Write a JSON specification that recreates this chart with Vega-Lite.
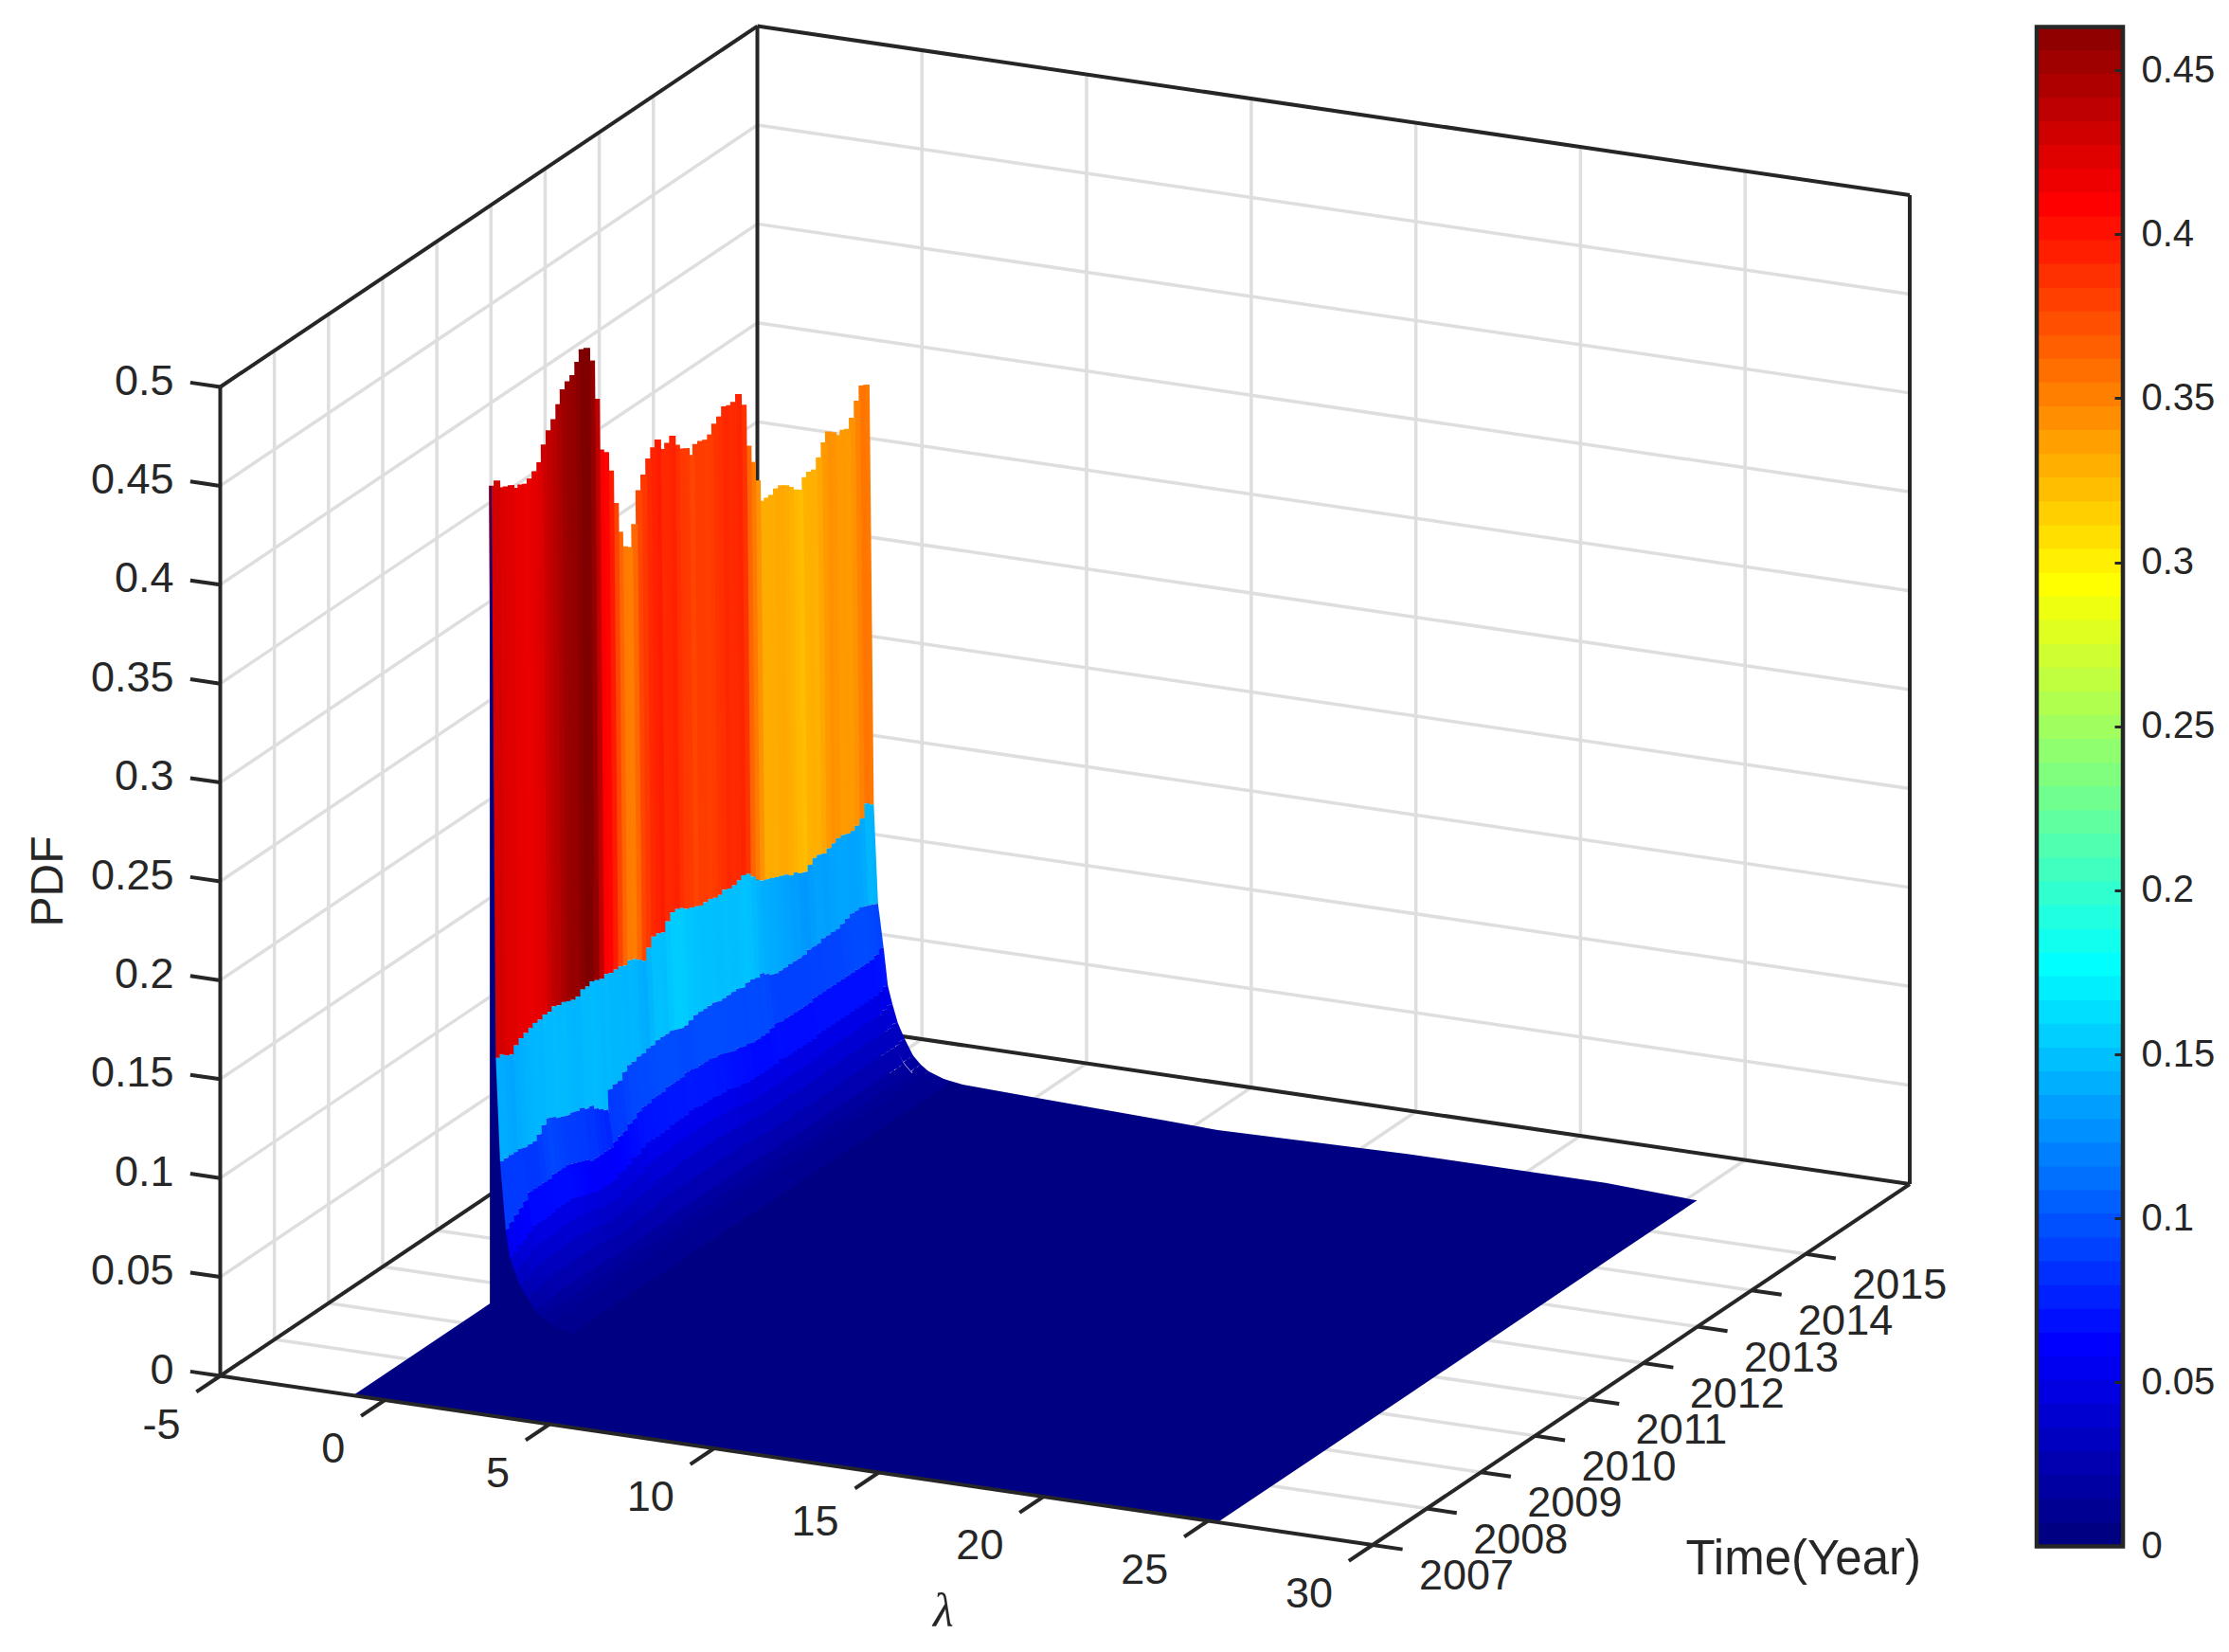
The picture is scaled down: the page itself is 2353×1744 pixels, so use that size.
{
  "$schema": "https://vega.github.io/schema/vega-lite/v6.json",
  "padding": 0,
  "spacing": 10,
  "background": "white",
  "config": {"view": {"stroke": null}},
  "datasets": {
    "grid": [
      {"l":0,"t":2016.92,"z":0,"l2":0,"t2":2016.92,"z2":0.5},
      {"l":5,"t":2016.92,"z":0,"l2":5,"t2":2016.92,"z2":0.5},
      {"l":10,"t":2016.92,"z":0,"l2":10,"t2":2016.92,"z2":0.5},
      {"l":15,"t":2016.92,"z":0,"l2":15,"t2":2016.92,"z2":0.5},
      {"l":20,"t":2016.92,"z":0,"l2":20,"t2":2016.92,"z2":0.5},
      {"l":25,"t":2016.92,"z":0,"l2":25,"t2":2016.92,"z2":0.5},
      {"l":-5,"t":2016.92,"z":0.05,"l2":30,"t2":2016.92,"z2":0.05},
      {"l":-5,"t":2016.92,"z":0.1,"l2":30,"t2":2016.92,"z2":0.1},
      {"l":-5,"t":2016.92,"z":0.15,"l2":30,"t2":2016.92,"z2":0.15},
      {"l":-5,"t":2016.92,"z":0.2,"l2":30,"t2":2016.92,"z2":0.2},
      {"l":-5,"t":2016.92,"z":0.25,"l2":30,"t2":2016.92,"z2":0.25},
      {"l":-5,"t":2016.92,"z":0.3,"l2":30,"t2":2016.92,"z2":0.3},
      {"l":-5,"t":2016.92,"z":0.35,"l2":30,"t2":2016.92,"z2":0.35},
      {"l":-5,"t":2016.92,"z":0.4,"l2":30,"t2":2016.92,"z2":0.4},
      {"l":-5,"t":2016.92,"z":0.45,"l2":30,"t2":2016.92,"z2":0.45},
      {"l":-5,"t":2008,"z":0,"l2":-5,"t2":2008,"z2":0.5},
      {"l":-5,"t":2009,"z":0,"l2":-5,"t2":2009,"z2":0.5},
      {"l":-5,"t":2010,"z":0,"l2":-5,"t2":2010,"z2":0.5},
      {"l":-5,"t":2011,"z":0,"l2":-5,"t2":2011,"z2":0.5},
      {"l":-5,"t":2012,"z":0,"l2":-5,"t2":2012,"z2":0.5},
      {"l":-5,"t":2013,"z":0,"l2":-5,"t2":2013,"z2":0.5},
      {"l":-5,"t":2014,"z":0,"l2":-5,"t2":2014,"z2":0.5},
      {"l":-5,"t":2015,"z":0,"l2":-5,"t2":2015,"z2":0.5},
      {"l":-5,"t":2007,"z":0.05,"l2":-5,"t2":2016.92,"z2":0.05},
      {"l":-5,"t":2007,"z":0.1,"l2":-5,"t2":2016.92,"z2":0.1},
      {"l":-5,"t":2007,"z":0.15,"l2":-5,"t2":2016.92,"z2":0.15},
      {"l":-5,"t":2007,"z":0.2,"l2":-5,"t2":2016.92,"z2":0.2},
      {"l":-5,"t":2007,"z":0.25,"l2":-5,"t2":2016.92,"z2":0.25},
      {"l":-5,"t":2007,"z":0.3,"l2":-5,"t2":2016.92,"z2":0.3},
      {"l":-5,"t":2007,"z":0.35,"l2":-5,"t2":2016.92,"z2":0.35},
      {"l":-5,"t":2007,"z":0.4,"l2":-5,"t2":2016.92,"z2":0.4},
      {"l":-5,"t":2007,"z":0.45,"l2":-5,"t2":2016.92,"z2":0.45},
      {"l":0,"t":2007,"z":0,"l2":0,"t2":2016.92,"z2":0},
      {"l":5,"t":2007,"z":0,"l2":5,"t2":2016.92,"z2":0},
      {"l":10,"t":2007,"z":0,"l2":10,"t2":2016.92,"z2":0},
      {"l":15,"t":2007,"z":0,"l2":15,"t2":2016.92,"z2":0},
      {"l":20,"t":2007,"z":0,"l2":20,"t2":2016.92,"z2":0},
      {"l":25,"t":2007,"z":0,"l2":25,"t2":2016.92,"z2":0},
      {"l":-5,"t":2008,"z":0,"l2":30,"t2":2008,"z2":0},
      {"l":-5,"t":2009,"z":0,"l2":30,"t2":2009,"z2":0},
      {"l":-5,"t":2010,"z":0,"l2":30,"t2":2010,"z2":0},
      {"l":-5,"t":2011,"z":0,"l2":30,"t2":2011,"z2":0},
      {"l":-5,"t":2012,"z":0,"l2":30,"t2":2012,"z2":0},
      {"l":-5,"t":2013,"z":0,"l2":30,"t2":2013,"z2":0},
      {"l":-5,"t":2014,"z":0,"l2":30,"t2":2014,"z2":0},
      {"l":-5,"t":2015,"z":0,"l2":30,"t2":2015,"z2":0}
    ],
    "box": [
      {"l":-5,"t":2007,"z":0,"l2":-5,"t2":2007,"z2":0.5},
      {"l":-5,"t":2007,"z":0.5,"l2":-5,"t2":2016.92,"z2":0.5},
      {"l":-5,"t":2016.92,"z":0,"l2":-5,"t2":2016.92,"z2":0.5},
      {"l":-5,"t":2016.92,"z":0.5,"l2":30,"t2":2016.92,"z2":0.5},
      {"l":30,"t":2016.92,"z":0,"l2":30,"t2":2016.92,"z2":0.5},
      {"l":-5,"t":2016.92,"z":0,"l2":30,"t2":2016.92,"z2":0},
      {"l":-5,"t":2007,"z":0,"l2":-5,"t2":2016.92,"z2":0},
      {"l":30,"t":2007,"z":0,"l2":30,"t2":2016.92,"z2":0}
    ],
    "ticks": [
      {"l":-5,"t":2007,"z":0,"l2":30,"t2":2007,"z2":0},
      {"l":-5,"t":2007,"z":0,"l2":-5,"t2":2006.56,"z2":0},
      {"l":0,"t":2007,"z":0,"l2":0,"t2":2006.56,"z2":0},
      {"l":5,"t":2007,"z":0,"l2":5,"t2":2006.56,"z2":0},
      {"l":10,"t":2007,"z":0,"l2":10,"t2":2006.56,"z2":0},
      {"l":15,"t":2007,"z":0,"l2":15,"t2":2006.56,"z2":0},
      {"l":20,"t":2007,"z":0,"l2":20,"t2":2006.56,"z2":0},
      {"l":25,"t":2007,"z":0,"l2":25,"t2":2006.56,"z2":0},
      {"l":30,"t":2007,"z":0,"l2":30,"t2":2006.56,"z2":0},
      {"l":30,"t":2007,"z":0,"l2":30.91,"t2":2007,"z2":0},
      {"l":30,"t":2008,"z":0,"l2":30.91,"t2":2008,"z2":0},
      {"l":30,"t":2009,"z":0,"l2":30.91,"t2":2009,"z2":0},
      {"l":30,"t":2010,"z":0,"l2":30.91,"t2":2010,"z2":0},
      {"l":30,"t":2011,"z":0,"l2":30.91,"t2":2011,"z2":0},
      {"l":30,"t":2012,"z":0,"l2":30.91,"t2":2012,"z2":0},
      {"l":30,"t":2013,"z":0,"l2":30.91,"t2":2013,"z2":0},
      {"l":30,"t":2014,"z":0,"l2":30.91,"t2":2014,"z2":0},
      {"l":30,"t":2015,"z":0,"l2":30.91,"t2":2015,"z2":0},
      {"l":-5,"t":2007,"z":0,"l2":-5.91,"t2":2007,"z2":0},
      {"l":-5,"t":2007,"z":0.05,"l2":-5.91,"t2":2007,"z2":0.05},
      {"l":-5,"t":2007,"z":0.1,"l2":-5.91,"t2":2007,"z2":0.1},
      {"l":-5,"t":2007,"z":0.15,"l2":-5.91,"t2":2007,"z2":0.15},
      {"l":-5,"t":2007,"z":0.2,"l2":-5.91,"t2":2007,"z2":0.2},
      {"l":-5,"t":2007,"z":0.25,"l2":-5.91,"t2":2007,"z2":0.25},
      {"l":-5,"t":2007,"z":0.3,"l2":-5.91,"t2":2007,"z2":0.3},
      {"l":-5,"t":2007,"z":0.35,"l2":-5.91,"t2":2007,"z2":0.35},
      {"l":-5,"t":2007,"z":0.4,"l2":-5.91,"t2":2007,"z2":0.4},
      {"l":-5,"t":2007,"z":0.45,"l2":-5.91,"t2":2007,"z2":0.45},
      {"l":-5,"t":2007,"z":0.5,"l2":-5.91,"t2":2007,"z2":0.5}
    ],
    "floor": [
      {"l":-0.96,"t":2007,"z":0,"l2":-0.96,"t2":2007},
      {"l":-0.96,"t":2015.85,"z":0,"l2":13.59,"t2":2007},
      {"l":1.8,"t":2015.85,"z":0.007,"l2":16.35,"t2":2007},
      {"l":3,"t":2015.85,"z":0.004,"l2":17.55,"t2":2007},
      {"l":5,"t":2015.85,"z":0.003,"l2":19.54,"t2":2007},
      {"l":9,"t":2015.85,"z":0.001,"l2":23.54,"t2":2007},
      {"l":10.74,"t":2015.85,"z":0,"l2":25.3,"t2":2007},
      {"l":16.5,"t":2015.85,"z":0.002,"l2":25.3,"t2":2010.49},
      {"l":22.52,"t":2015.85,"z":0.002,"l2":25.3,"t2":2014.16},
      {"l":25.3,"t":2015.85,"z":0,"l2":25.3,"t2":2015.85}
    ],
    "bands": [
      {"band":"a","lam":-0.05},
      {"band":"b","lam":0.08},
      {"band":"c","lam":0.21},
      {"band":"d","lam":0.38},
      {"band":"e","lam":0.51},
      {"band":"k","lam":0.65},
      {"band":"f","lam":0.81},
      {"band":"m","lam":1.03},
      {"band":"g","lam":1.29},
      {"band":"n","lam":1.52},
      {"band":"h","lam":1.76},
      {"band":"i","lam":2.4}
    ],
    "wall": [
      {"l":-0.1,"t":2009,"z":0.425},
      {"l":-0.05,"t":2009,"z":0.425},
      {"l":0.08,"t":2009,"z":0.136},
      {"l":0.21,"t":2009,"z":0.084},
      {"l":0.38,"t":2009,"z":0.05},
      {"l":0.51,"t":2009,"z":0.036},
      {"l":0.81,"t":2009,"z":0.023},
      {"l":1.29,"t":2009,"z":0.011},
      {"l":1.76,"t":2009,"z":0.005},
      {"l":3,"t":2009,"z":0}
    ],
    "ridge": [
      {"t":2015.92,"a":0.351,"b":0.139,"c":0.089,"d":0.067,"e":0.048,"k":0.039,"f":0.03,"m":0.022,"g":0.014,"n":0.01,"h":0.007,"i":0.003},
      {"t":2015.84,"a":0.352,"b":0.141,"c":0.09,"d":0.065,"e":0.047,"k":0.038,"f":0.029,"m":0.021,"g":0.014,"n":0.01,"h":0.007,"i":0.003},
      {"t":2015.75,"a":0.346,"b":0.135,"c":0.091,"d":0.064,"e":0.046,"k":0.037,"f":0.029,"m":0.021,"g":0.013,"n":0.009,"h":0.006,"i":0.003},
      {"t":2015.66,"a":0.339,"b":0.133,"c":0.092,"d":0.064,"e":0.046,"k":0.037,"f":0.029,"m":0.021,"g":0.013,"n":0.009,"h":0.006,"i":0.003},
      {"t":2015.57,"a":0.335,"b":0.132,"c":0.092,"d":0.064,"e":0.046,"k":0.037,"f":0.029,"m":0.021,"g":0.013,"n":0.009,"h":0.006,"i":0.003},
      {"t":2015.49,"a":0.336,"b":0.132,"c":0.092,"d":0.064,"e":0.046,"k":0.037,"f":0.029,"m":0.021,"g":0.013,"n":0.009,"h":0.006,"i":0.003},
      {"t":2015.4,"a":0.335,"b":0.133,"c":0.091,"d":0.064,"e":0.046,"k":0.037,"f":0.029,"m":0.021,"g":0.013,"n":0.009,"h":0.006,"i":0.003},
      {"t":2015.31,"a":0.338,"b":0.133,"c":0.09,"d":0.064,"e":0.046,"k":0.037,"f":0.029,"m":0.021,"g":0.013,"n":0.009,"h":0.006,"i":0.003},
      {"t":2015.22,"a":0.34,"b":0.132,"c":0.089,"d":0.064,"e":0.046,"k":0.037,"f":0.029,"m":0.021,"g":0.013,"n":0.009,"h":0.006,"i":0.003},
      {"t":2015.14,"a":0.336,"b":0.131,"c":0.089,"d":0.064,"e":0.046,"k":0.037,"f":0.029,"m":0.021,"g":0.013,"n":0.009,"h":0.006,"i":0.003},
      {"t":2015.05,"a":0.33,"b":0.13,"c":0.089,"d":0.064,"e":0.046,"k":0.037,"f":0.029,"m":0.021,"g":0.013,"n":0.009,"h":0.006,"i":0.003},
      {"t":2014.96,"a":0.3255,"b":0.131,"c":0.089,"d":0.064,"e":0.046,"k":0.037,"f":0.029,"m":0.021,"g":0.013,"n":0.009,"h":0.006,"i":0.003},
      {"t":2014.87,"a":0.326,"b":0.131,"c":0.088,"d":0.064,"e":0.046,"k":0.037,"f":0.029,"m":0.021,"g":0.013,"n":0.009,"h":0.006,"i":0.003},
      {"t":2014.79,"a":0.3247,"b":0.129,"c":0.088,"d":0.064,"e":0.046,"k":0.037,"f":0.029,"m":0.021,"g":0.013,"n":0.009,"h":0.006,"i":0.003},
      {"t":2014.7,"a":0.32,"b":0.127,"c":0.088,"d":0.064,"e":0.046,"k":0.037,"f":0.029,"m":0.021,"g":0.013,"n":0.009,"h":0.006,"i":0.003},
      {"t":2014.61,"a":0.3217,"b":0.128,"c":0.087,"d":0.063,"e":0.045,"k":0.036,"f":0.028,"m":0.02,"g":0.013,"n":0.009,"h":0.006,"i":0.003},
      {"t":2014.52,"a":0.3247,"b":0.13,"c":0.087,"d":0.063,"e":0.045,"k":0.036,"f":0.028,"m":0.02,"g":0.013,"n":0.009,"h":0.006,"i":0.003},
      {"t":2014.44,"a":0.327,"b":0.13,"c":0.087,"d":0.063,"e":0.045,"k":0.036,"f":0.028,"m":0.02,"g":0.013,"n":0.009,"h":0.006,"i":0.003},
      {"t":2014.35,"a":0.3286,"b":0.132,"c":0.087,"d":0.063,"e":0.045,"k":0.036,"f":0.028,"m":0.02,"g":0.013,"n":0.009,"h":0.006,"i":0.003},
      {"t":2014.26,"a":0.3286,"b":0.133,"c":0.087,"d":0.063,"e":0.045,"k":0.036,"f":0.028,"m":0.02,"g":0.013,"n":0.009,"h":0.006,"i":0.003},
      {"t":2014.17,"a":0.327,"b":0.134,"c":0.087,"d":0.063,"e":0.045,"k":0.036,"f":0.028,"m":0.02,"g":0.013,"n":0.009,"h":0.006,"i":0.003},
      {"t":2014.09,"a":0.327,"b":0.135,"c":0.087,"d":0.063,"e":0.045,"k":0.036,"f":0.028,"m":0.02,"g":0.013,"n":0.009,"h":0.006,"i":0.003},
      {"t":2014,"a":0.327,"b":0.136,"c":0.088,"d":0.064,"e":0.046,"k":0.037,"f":0.029,"m":0.021,"g":0.013,"n":0.009,"h":0.006,"i":0.003},
      {"t":2013.91,"a":0.339,"b":0.137,"c":0.09,"d":0.063,"e":0.045,"k":0.036,"f":0.028,"m":0.02,"g":0.013,"n":0.009,"h":0.006,"i":0.003},
      {"t":2013.82,"a":0.35,"b":0.139,"c":0.092,"d":0.062,"e":0.045,"k":0.036,"f":0.028,"m":0.02,"g":0.013,"n":0.009,"h":0.006,"i":0.003},
      {"t":2013.74,"a":0.3596,"b":0.142,"c":0.091,"d":0.062,"e":0.045,"k":0.036,"f":0.028,"m":0.02,"g":0.013,"n":0.009,"h":0.006,"i":0.003},
      {"t":2013.65,"a":0.382,"b":0.145,"c":0.092,"d":0.062,"e":0.045,"k":0.036,"f":0.028,"m":0.02,"g":0.013,"n":0.009,"h":0.006,"i":0.003},
      {"t":2013.56,"a":0.389,"b":0.146,"c":0.092,"d":0.062,"e":0.045,"k":0.036,"f":0.028,"m":0.02,"g":0.013,"n":0.009,"h":0.006,"i":0.003},
      {"t":2013.47,"a":0.3867,"b":0.145,"c":0.091,"d":0.063,"e":0.045,"k":0.036,"f":0.028,"m":0.02,"g":0.013,"n":0.009,"h":0.006,"i":0.003},
      {"t":2013.39,"a":0.3864,"b":0.144,"c":0.092,"d":0.063,"e":0.045,"k":0.036,"f":0.028,"m":0.02,"g":0.013,"n":0.009,"h":0.006,"i":0.003},
      {"t":2013.3,"a":0.3875,"b":0.144,"c":0.092,"d":0.064,"e":0.046,"k":0.037,"f":0.029,"m":0.021,"g":0.013,"n":0.009,"h":0.006,"i":0.003},
      {"t":2013.21,"a":0.384,"b":0.145,"c":0.092,"d":0.064,"e":0.046,"k":0.037,"f":0.029,"m":0.021,"g":0.013,"n":0.009,"h":0.006,"i":0.003},
      {"t":2013.12,"a":0.382,"b":0.144,"c":0.092,"d":0.065,"e":0.047,"k":0.038,"f":0.029,"m":0.021,"g":0.014,"n":0.01,"h":0.007,"i":0.003},
      {"t":2013.04,"a":0.378,"b":0.144,"c":0.092,"d":0.066,"e":0.048,"k":0.039,"f":0.03,"m":0.022,"g":0.014,"n":0.01,"h":0.007,"i":0.003},
      {"t":2012.95,"a":0.377,"b":0.145,"c":0.093,"d":0.067,"e":0.048,"k":0.039,"f":0.03,"m":0.022,"g":0.014,"n":0.01,"h":0.007,"i":0.003},
      {"t":2012.86,"a":0.378,"b":0.145,"c":0.093,"d":0.067,"e":0.048,"k":0.039,"f":0.03,"m":0.022,"g":0.014,"n":0.01,"h":0.007,"i":0.003},
      {"t":2012.77,"a":0.378,"b":0.145,"c":0.093,"d":0.068,"e":0.049,"k":0.04,"f":0.031,"m":0.022,"g":0.014,"n":0.01,"h":0.007,"i":0.003},
      {"t":2012.69,"a":0.374,"b":0.146,"c":0.093,"d":0.068,"e":0.049,"k":0.04,"f":0.031,"m":0.022,"g":0.014,"n":0.01,"h":0.007,"i":0.003},
      {"t":2012.6,"a":0.379,"b":0.147,"c":0.093,"d":0.068,"e":0.049,"k":0.04,"f":0.031,"m":0.022,"g":0.014,"n":0.01,"h":0.007,"i":0.003},
      {"t":2012.51,"a":0.3805,"b":0.148,"c":0.092,"d":0.068,"e":0.049,"k":0.04,"f":0.031,"m":0.022,"g":0.014,"n":0.01,"h":0.007,"i":0.003},
      {"t":2012.42,"a":0.384,"b":0.15,"c":0.091,"d":0.069,"e":0.05,"k":0.04,"f":0.031,"m":0.022,"g":0.014,"n":0.01,"h":0.007,"i":0.003},
      {"t":2012.34,"a":0.39,"b":0.151,"c":0.091,"d":0.069,"e":0.05,"k":0.04,"f":0.031,"m":0.022,"g":0.014,"n":0.01,"h":0.007,"i":0.003},
      {"t":2012.25,"a":0.388,"b":0.151,"c":0.092,"d":0.068,"e":0.049,"k":0.04,"f":0.031,"m":0.022,"g":0.014,"n":0.01,"h":0.007,"i":0.003},
      {"t":2012.16,"a":0.3866,"b":0.148,"c":0.093,"d":0.068,"e":0.049,"k":0.04,"f":0.031,"m":0.022,"g":0.014,"n":0.01,"h":0.007,"i":0.003},
      {"t":2012.07,"a":0.393,"b":0.144,"c":0.093,"d":0.068,"e":0.049,"k":0.04,"f":0.031,"m":0.022,"g":0.014,"n":0.01,"h":0.007,"i":0.003},
      {"t":2011.99,"a":0.3905,"b":0.145,"c":0.093,"d":0.068,"e":0.049,"k":0.04,"f":0.031,"m":0.022,"g":0.014,"n":0.01,"h":0.007,"i":0.003},
      {"t":2011.9,"a":0.3865,"b":0.145,"c":0.093,"d":0.067,"e":0.048,"k":0.039,"f":0.03,"m":0.022,"g":0.014,"n":0.01,"h":0.007,"i":0.003},
      {"t":2011.81,"a":0.38,"b":0.141,"c":0.092,"d":0.067,"e":0.048,"k":0.039,"f":0.03,"m":0.022,"g":0.014,"n":0.01,"h":0.007,"i":0.003},
      {"t":2011.72,"a":0.3737,"b":0.136,"c":0.092,"d":0.067,"e":0.048,"k":0.039,"f":0.03,"m":0.022,"g":0.014,"n":0.01,"h":0.007,"i":0.003},
      {"t":2011.64,"a":0.358,"b":0.138,"c":0.091,"d":0.066,"e":0.048,"k":0.039,"f":0.03,"m":0.022,"g":0.014,"n":0.01,"h":0.007,"i":0.003},
      {"t":2011.55,"a":0.348,"b":0.14,"c":0.091,"d":0.066,"e":0.048,"k":0.039,"f":0.03,"m":0.022,"g":0.014,"n":0.01,"h":0.007,"i":0.003},
      {"t":2011.46,"a":0.35,"b":0.141,"c":0.09,"d":0.065,"e":0.047,"k":0.038,"f":0.029,"m":0.021,"g":0.014,"n":0.01,"h":0.007,"i":0.003},
      {"t":2011.37,"a":0.359,"b":0.14,"c":0.09,"d":0.063,"e":0.045,"k":0.036,"f":0.028,"m":0.02,"g":0.013,"n":0.009,"h":0.006,"i":0.003},
      {"t":2011.29,"a":0.375,"b":0.141,"c":0.088,"d":0.062,"e":0.045,"k":0.036,"f":0.028,"m":0.02,"g":0.013,"n":0.009,"h":0.006,"i":0.003},
      {"t":2011.2,"a":0.393,"b":0.141,"c":0.085,"d":0.06,"e":0.043,"k":0.035,"f":0.027,"m":0.02,"g":0.013,"n":0.009,"h":0.006,"i":0.003},
      {"t":2011.11,"a":0.404,"b":0.141,"c":0.085,"d":0.059,"e":0.042,"k":0.034,"f":0.027,"m":0.019,"g":0.012,"n":0.009,"h":0.006,"i":0.003},
      {"t":2011.02,"a":0.407,"b":0.142,"c":0.084,"d":0.058,"e":0.042,"k":0.034,"f":0.026,"m":0.019,"g":0.012,"n":0.009,"h":0.006,"i":0.003},
      {"t":2010.94,"a":0.434,"b":0.141,"c":0.075,"d":0.056,"e":0.04,"k":0.032,"f":0.025,"m":0.018,"g":0.012,"n":0.009,"h":0.006,"i":0.003},
      {"t":2010.85,"a":0.455,"b":0.142,"c":0.077,"d":0.056,"e":0.04,"k":0.032,"f":0.025,"m":0.018,"g":0.012,"n":0.009,"h":0.006,"i":0.003},
      {"t":2010.76,"a":0.463,"b":0.143,"c":0.079,"d":0.056,"e":0.04,"k":0.032,"f":0.025,"m":0.018,"g":0.012,"n":0.009,"h":0.006,"i":0.003},
      {"t":2010.67,"a":0.464,"b":0.142,"c":0.082,"d":0.056,"e":0.04,"k":0.032,"f":0.025,"m":0.018,"g":0.012,"n":0.009,"h":0.006,"i":0.003},
      {"t":2010.59,"a":0.459,"b":0.142,"c":0.082,"d":0.056,"e":0.04,"k":0.032,"f":0.025,"m":0.018,"g":0.012,"n":0.009,"h":0.006,"i":0.003},
      {"t":2010.5,"a":0.454,"b":0.14,"c":0.084,"d":0.058,"e":0.042,"k":0.034,"f":0.026,"m":0.019,"g":0.012,"n":0.009,"h":0.006,"i":0.003},
      {"t":2010.41,"a":0.4525,"b":0.14,"c":0.084,"d":0.059,"e":0.042,"k":0.034,"f":0.027,"m":0.019,"g":0.012,"n":0.009,"h":0.006,"i":0.003},
      {"t":2010.32,"a":0.45,"b":0.141,"c":0.085,"d":0.06,"e":0.043,"k":0.035,"f":0.027,"m":0.02,"g":0.013,"n":0.009,"h":0.006,"i":0.003},
      {"t":2010.24,"a":0.444,"b":0.142,"c":0.085,"d":0.061,"e":0.044,"k":0.035,"f":0.027,"m":0.02,"g":0.013,"n":0.009,"h":0.006,"i":0.003},
      {"t":2010.15,"a":0.438,"b":0.142,"c":0.086,"d":0.062,"e":0.045,"k":0.036,"f":0.028,"m":0.02,"g":0.013,"n":0.009,"h":0.006,"i":0.003},
      {"t":2010.06,"a":0.434,"b":0.143,"c":0.087,"d":0.062,"e":0.045,"k":0.036,"f":0.028,"m":0.02,"g":0.013,"n":0.009,"h":0.006,"i":0.003},
      {"t":2009.97,"a":0.4285,"b":0.142,"c":0.089,"d":0.062,"e":0.045,"k":0.036,"f":0.028,"m":0.02,"g":0.013,"n":0.009,"h":0.006,"i":0.003},
      {"t":2009.89,"a":0.421,"b":0.142,"c":0.09,"d":0.062,"e":0.045,"k":0.036,"f":0.028,"m":0.02,"g":0.013,"n":0.009,"h":0.006,"i":0.003},
      {"t":2009.8,"a":0.418,"b":0.141,"c":0.088,"d":0.061,"e":0.044,"k":0.035,"f":0.027,"m":0.02,"g":0.013,"n":0.009,"h":0.006,"i":0.003},
      {"t":2009.71,"a":0.416,"b":0.141,"c":0.085,"d":0.061,"e":0.044,"k":0.035,"f":0.027,"m":0.02,"g":0.013,"n":0.009,"h":0.006,"i":0.003},
      {"t":2009.62,"a":0.415,"b":0.14,"c":0.083,"d":0.061,"e":0.044,"k":0.035,"f":0.027,"m":0.02,"g":0.013,"n":0.009,"h":0.006,"i":0.003},
      {"t":2009.54,"a":0.416,"b":0.139,"c":0.083,"d":0.061,"e":0.044,"k":0.035,"f":0.027,"m":0.02,"g":0.013,"n":0.009,"h":0.006,"i":0.003},
      {"t":2009.45,"a":0.416,"b":0.138,"c":0.083,"d":0.061,"e":0.044,"k":0.035,"f":0.027,"m":0.02,"g":0.013,"n":0.009,"h":0.006,"i":0.003},
      {"t":2009.36,"a":0.419,"b":0.136,"c":0.084,"d":0.058,"e":0.042,"k":0.034,"f":0.026,"m":0.019,"g":0.012,"n":0.009,"h":0.006,"i":0.003},
      {"t":2009.27,"a":0.42,"b":0.133,"c":0.084,"d":0.056,"e":0.04,"k":0.032,"f":0.025,"m":0.018,"g":0.012,"n":0.009,"h":0.006,"i":0.003},
      {"t":2009.19,"a":0.421,"b":0.134,"c":0.084,"d":0.054,"e":0.039,"k":0.031,"f":0.024,"m":0.017,"g":0.011,"n":0.008,"h":0.005,"i":0.002},
      {"t":2009.1,"a":0.426,"b":0.136,"c":0.084,"d":0.052,"e":0.037,"k":0.03,"f":0.023,"m":0.017,"g":0.011,"n":0.008,"h":0.005,"i":0.002},
      {"t":2009.01,"a":0.425,"b":0.136,"c":0.084,"d":0.05,"e":0.036,"k":0.029,"f":0.023,"m":0.017,"g":0.011,"n":0.008,"h":0.005,"i":0.002}
    ],
    "colorbar": [
      {"lo":0,"hi":0.0076},{"lo":0.0072,"hi":0.0149},{"lo":0.0145,"hi":0.0221},{"lo":0.0217,"hi":0.0294},
      {"lo":0.029,"hi":0.0366},{"lo":0.0362,"hi":0.0438},{"lo":0.0434,"hi":0.0511},{"lo":0.0507,"hi":0.0583},
      {"lo":0.0579,"hi":0.0656},{"lo":0.0652,"hi":0.0728},{"lo":0.0724,"hi":0.08},{"lo":0.0796,"hi":0.0873},
      {"lo":0.0869,"hi":0.0945},{"lo":0.0941,"hi":0.1018},{"lo":0.1014,"hi":0.109},{"lo":0.1086,"hi":0.1162},
      {"lo":0.1158,"hi":0.1235},{"lo":0.1231,"hi":0.1307},{"lo":0.1303,"hi":0.138},{"lo":0.1376,"hi":0.1452},
      {"lo":0.1448,"hi":0.1524},{"lo":0.152,"hi":0.1597},{"lo":0.1593,"hi":0.1669},{"lo":0.1665,"hi":0.1742},
      {"lo":0.1738,"hi":0.1814},{"lo":0.181,"hi":0.1886},{"lo":0.1882,"hi":0.1959},{"lo":0.1955,"hi":0.2031},
      {"lo":0.2027,"hi":0.2104},{"lo":0.21,"hi":0.2176},{"lo":0.2172,"hi":0.2248},{"lo":0.2244,"hi":0.2321},
      {"lo":0.2317,"hi":0.2393},{"lo":0.2389,"hi":0.2466},{"lo":0.2462,"hi":0.2538},{"lo":0.2534,"hi":0.261},
      {"lo":0.2606,"hi":0.2683},{"lo":0.2679,"hi":0.2755},{"lo":0.2751,"hi":0.2828},{"lo":0.2824,"hi":0.29},
      {"lo":0.2896,"hi":0.2972},{"lo":0.2968,"hi":0.3045},{"lo":0.3041,"hi":0.3117},{"lo":0.3113,"hi":0.319},
      {"lo":0.3186,"hi":0.3262},{"lo":0.3258,"hi":0.3334},{"lo":0.333,"hi":0.3407},{"lo":0.3403,"hi":0.3479},
      {"lo":0.3475,"hi":0.3552},{"lo":0.3548,"hi":0.3624},{"lo":0.362,"hi":0.3696},{"lo":0.3692,"hi":0.3769},
      {"lo":0.3765,"hi":0.3841},{"lo":0.3837,"hi":0.3914},{"lo":0.391,"hi":0.3986},{"lo":0.3982,"hi":0.4058},
      {"lo":0.4054,"hi":0.4131},{"lo":0.4127,"hi":0.4203},{"lo":0.4199,"hi":0.4276},{"lo":0.4272,"hi":0.4348},
      {"lo":0.4344,"hi":0.442},{"lo":0.4416,"hi":0.4493},{"lo":0.4489,"hi":0.4565},{"lo":0.4561,"hi":0.4632}
    ]
  },
  "hconcat": [
    {
      "width": 2137,
      "height": 1744,
      "encoding": {
        "x": {"field": "px", "type": "quantitative", "axis": null, "scale": {"domain": [0, 2137], "nice": false, "zero": false}},
        "y": {"field": "py", "type": "quantitative", "axis": null, "scale": {"domain": [1744, 0], "nice": false, "zero": false}}
      },
      "layer": [
        {
          "data": {"name": "grid"},
          "transform": [
            {"calculate": "232.5+34.757*(datum.l+5)+57.157*(datum.t-2007)", "as": "px"},
            {"calculate": "1452.5+5.1*(datum.l+5)-38.4*(datum.t-2007)-2088*datum.z", "as": "py"},
            {"calculate": "232.5+34.757*(datum.l2+5)+57.157*(datum.t2-2007)", "as": "qx"},
            {"calculate": "1452.5+5.1*(datum.l2+5)-38.4*(datum.t2-2007)-2088*datum.z2", "as": "qy"}
          ],
          "mark": {"type": "rule", "color": "#dedede", "strokeWidth": 3.5},
          "encoding": {"x2": {"field": "qx"}, "y2": {"field": "qy"}}
        },
        {
          "data": {"name": "box"},
          "transform": [
            {"calculate": "232.5+34.757*(datum.l+5)+57.157*(datum.t-2007)", "as": "px"},
            {"calculate": "1452.5+5.1*(datum.l+5)-38.4*(datum.t-2007)-2088*datum.z", "as": "py"},
            {"calculate": "232.5+34.757*(datum.l2+5)+57.157*(datum.t2-2007)", "as": "qx"},
            {"calculate": "1452.5+5.1*(datum.l2+5)-38.4*(datum.t2-2007)-2088*datum.z2", "as": "qy"}
          ],
          "mark": {"type": "rule", "color": "#262626", "strokeWidth": 4},
          "encoding": {"x2": {"field": "qx"}, "y2": {"field": "qy"}}
        },
        {
          "data": {"name": "floor"},
          "transform": [
            {"calculate": "232.5+34.757*(datum.l+5)+57.157*(datum.t-2007)", "as": "px"},
            {"calculate": "1452.5+5.1*(datum.l+5)-38.4*(datum.t-2007)-2088*datum.z", "as": "py"},
            {"calculate": "1452.5+5.1*(datum.l2+5)-38.4*(datum.t2-2007)", "as": "qy"}
          ],
          "mark": {"type": "area", "color": "#000083", "interpolate": "linear"},
          "encoding": {"y2": {"field": "qy"}}
        },
        {
          "data": {"name": "ridge"},
          "transform": [
            {"calculate": "232.5+34.757*5.38+57.157*(datum.t-2007)", "as": "px"},
            {"calculate": "1452+4.886*5.38-37.8*(datum.t-2007)-2088*datum.d", "as": "py"},
            {"calculate": "1452+4.886*5.38-37.8*(datum.t-2007)", "as": "qy"}
          ],
          "mark": {"type": "area", "color": "#00009a", "interpolate": "linear"},
          "encoding": {"y2": {"field": "qy"}}
        },
        {
          "data": {"name": "ridge"},
          "transform": [
            {"fold": ["a", "b", "c", "d", "e", "k", "f", "m", "g", "n", "h", "i"], "as": ["band", "p"]},
            {"lookup": "band", "from": {"data": {"name": "bands"}, "key": "band", "fields": ["lam"]}},
            {
              "window": [
                {"op": "lead", "field": "p", "as": "p2"},
                {"op": "lead", "field": "lam", "as": "lam2"}
              ],
              "groupby": ["t"],
              "sort": [{"field": "lam"}]
            },
            {"filter": "datum.p2 != null"},
            {"calculate": "232.5+34.757*(datum.lam+5)+57.157*(datum.t-2007)", "as": "px"},
            {"calculate": "1452+4.886*(datum.lam+5)-37.8*(datum.t-2007)-2088*datum.p", "as": "py"},
            {"calculate": "232.5+34.757*(datum.lam2+5)+57.157*(datum.t-2007)", "as": "qx"},
            {"calculate": "1452+4.886*(datum.lam2+5)-37.8*(datum.t-2007)-2088*datum.p2", "as": "qy"}
          ],
          "mark": {"type": "rule", "strokeWidth": 7},
          "encoding": {
            "x2": {"field": "qx"},
            "y2": {"field": "qy"},
            "color": {
              "field": "p",
              "type": "quantitative",
              "legend": null,
              "scale": {
                "domain": [0, 0.0579, 0.1737, 0.2895, 0.4053, 0.4632],
                "range": ["#000083", "#0000ff", "#00ffff", "#ffff00", "#ff0000", "#800000"],
                "interpolate": "rgb"
              }
            }
          }
        },
        {
          "data": {"name": "wall"},
          "transform": [
            {"calculate": "232.5+34.757*(datum.l+5)+57.157*(datum.t-2007)", "as": "px"},
            {"calculate": "1452+4.886*(datum.l+5)-37.8*(datum.t-2007)-2088*datum.z", "as": "py"},
            {"calculate": "1452+4.886*(datum.l+5)-37.8*(datum.t-2007)", "as": "qy"}
          ],
          "mark": {"type": "area", "color": "#000083", "interpolate": "linear"},
          "encoding": {"y2": {"field": "qy"}}
        },
        {
          "data": {"name": "ticks"},
          "transform": [
            {"calculate": "232.5+34.757*(datum.l+5)+57.157*(datum.t-2007)", "as": "px"},
            {"calculate": "1452.5+5.1*(datum.l+5)-38.4*(datum.t-2007)-2088*datum.z", "as": "py"},
            {"calculate": "232.5+34.757*(datum.l2+5)+57.157*(datum.t2-2007)", "as": "qx"},
            {"calculate": "1452.5+5.1*(datum.l2+5)-38.4*(datum.t2-2007)-2088*datum.z2", "as": "qy"}
          ],
          "mark": {"type": "rule", "color": "#262626", "strokeWidth": 4},
          "encoding": {"x2": {"field": "qx"}, "y2": {"field": "qy"}}
        },
        {
          "data": {"values": [
            {"label":"0","l":-5,"t":2007,"z":0},{"label":"0.05","l":-5,"t":2007,"z":0.05},{"label":"0.1","l":-5,"t":2007,"z":0.1},
            {"label":"0.15","l":-5,"t":2007,"z":0.15},{"label":"0.2","l":-5,"t":2007,"z":0.2},{"label":"0.25","l":-5,"t":2007,"z":0.25},
            {"label":"0.3","l":-5,"t":2007,"z":0.3},{"label":"0.35","l":-5,"t":2007,"z":0.35},{"label":"0.4","l":-5,"t":2007,"z":0.4},
            {"label":"0.45","l":-5,"t":2007,"z":0.45},{"label":"0.5","l":-5,"t":2007,"z":0.5}
          ]},
          "transform": [
            {"calculate": "232.5+34.757*(datum.l+5)+57.157*(datum.t-2007)", "as": "px"},
            {"calculate": "1452.5+5.1*(datum.l+5)-38.4*(datum.t-2007)-2088*datum.z", "as": "py"}
          ],
          "mark": {"type": "text", "align": "right", "baseline": "middle", "dx": -49, "dy": -6, "font": "Liberation Sans", "fontSize": 45, "fill": "#262626"},
          "encoding": {"text": {"field": "label"}}
        },
        {
          "data": {"values": [
            {"label":"-5","l":-5,"t":2007,"z":0},{"label":"0","l":0,"t":2007,"z":0},{"label":"5","l":5,"t":2007,"z":0},{"label":"10","l":10,"t":2007,"z":0},
            {"label":"15","l":15,"t":2007,"z":0},{"label":"20","l":20,"t":2007,"z":0},{"label":"25","l":25,"t":2007,"z":0},{"label":"30","l":30,"t":2007,"z":0}
          ]},
          "transform": [
            {"calculate": "232.5+34.757*(datum.l+5)+57.157*(datum.t-2007)", "as": "px"},
            {"calculate": "1452.5+5.1*(datum.l+5)-38.4*(datum.t-2007)-2088*datum.z", "as": "py"}
          ],
          "mark": {"type": "text", "align": "right", "baseline": "middle", "dx": -42, "dy": 52, "font": "Liberation Sans", "fontSize": 45, "fill": "#262626"},
          "encoding": {"text": {"field": "label"}}
        },
        {
          "data": {"values": [
            {"label":"2007","l":30,"t":2007,"z":0},{"label":"2008","l":30,"t":2008,"z":0},{"label":"2009","l":30,"t":2009,"z":0},
            {"label":"2010","l":30,"t":2010,"z":0},{"label":"2011","l":30,"t":2011,"z":0},{"label":"2012","l":30,"t":2012,"z":0},
            {"label":"2013","l":30,"t":2013,"z":0},{"label":"2014","l":30,"t":2014,"z":0},{"label":"2015","l":30,"t":2015,"z":0}
          ]},
          "transform": [
            {"calculate": "232.5+34.757*(datum.l+5)+57.157*(datum.t-2007)", "as": "px"},
            {"calculate": "1452.5+5.1*(datum.l+5)-38.4*(datum.t-2007)-2088*datum.z", "as": "py"}
          ],
          "mark": {"type": "text", "align": "left", "baseline": "middle", "dx": 49, "dy": 33, "font": "Liberation Sans", "fontSize": 45, "fill": "#262626"},
          "encoding": {"text": {"field": "label"}}
        },
        {
          "data": {"values": [{"label": "PDF", "l": -5, "t": 2007, "z": 0.25}]},
          "transform": [
            {"calculate": "232.5+34.757*(datum.l+5)+57.157*(datum.t-2007)", "as": "px"},
            {"calculate": "1452.5+5.1*(datum.l+5)-38.4*(datum.t-2007)-2088*datum.z", "as": "py"}
          ],
          "mark": {"type": "text", "align": "center", "baseline": "middle", "angle": 270, "dx": 0, "dy": -181, "font": "Liberation Sans", "fontSize": 48, "fill": "#262626"},
          "encoding": {"text": {"field": "label"}}
        },
        {
          "data": {"values": [{"label": "λ", "l": 12.5, "t": 2007, "z": 0}]},
          "transform": [
            {"calculate": "232.5+34.757*(datum.l+5)+57.157*(datum.t-2007)", "as": "px"},
            {"calculate": "1452.5+5.1*(datum.l+5)-38.4*(datum.t-2007)-2088*datum.z", "as": "py"}
          ],
          "mark": {"type": "text", "align": "center", "baseline": "middle", "dx": 155, "dy": 160, "font": "Liberation Serif", "fontStyle": "italic", "fontSize": 50, "fill": "#262626"},
          "encoding": {"text": {"field": "label"}}
        },
        {
          "data": {"values": [{"label": "Time(Year)", "l": 30, "t": 2012, "z": 0}]},
          "transform": [
            {"calculate": "232.5+34.757*(datum.l+5)+57.157*(datum.t-2007)", "as": "px"},
            {"calculate": "1452.5+5.1*(datum.l+5)-38.4*(datum.t-2007)-2088*datum.z", "as": "py"}
          ],
          "mark": {"type": "text", "align": "center", "baseline": "middle", "dx": 169, "dy": 208, "font": "Liberation Sans", "fontSize": 51, "fill": "#262626"},
          "encoding": {"text": {"field": "label"}}
        }
      ]
    },
    {
      "width": 91,
      "height": 1744,
      "data": {"name": "colorbar"},
      "encoding": {
        "y": {
          "field": "lo",
          "type": "quantitative",
          "scale": {"domain": [-0.0322, 0.4714], "nice": false, "zero": false},
          "axis": {
            "orient": "right",
            "title": null,
            "values": [0, 0.05, 0.1, 0.15, 0.2, 0.25, 0.3, 0.35, 0.4, 0.45],
            "domain": false,
            "grid": false,
            "zindex": 1,
            "tickSize": -9,
            "tickWidth": 3,
            "tickColor": "#262626",
            "labelFont": "Liberation Sans",
            "labelFontSize": 40,
            "labelColor": "#262626",
            "labelPadding": 28,
            "labelBound": false,
            "labelOverlap": false,
            "format": "~g"
          }
        },
        "y2": {"field": "hi"}
      },
      "layer": [
        {
          "mark": {"type": "rect"},
          "encoding": {
            "color": {
              "field": "lo",
              "type": "quantitative",
              "legend": null,
              "scale": {
                "domain": [0, 0.0579, 0.1737, 0.2895, 0.4053, 0.4632],
                "range": ["#000083", "#0000ff", "#00ffff", "#ffff00", "#ff0000", "#800000"],
                "interpolate": "rgb"
              }
            }
          }
        },
        {
          "data": {"values": [{"lo": 0, "hi": 0.4632}]},
          "mark": {"type": "rect", "fillOpacity": 0, "stroke": "#262626", "strokeWidth": 4.5}
        }
      ]
    }
  ]
}
